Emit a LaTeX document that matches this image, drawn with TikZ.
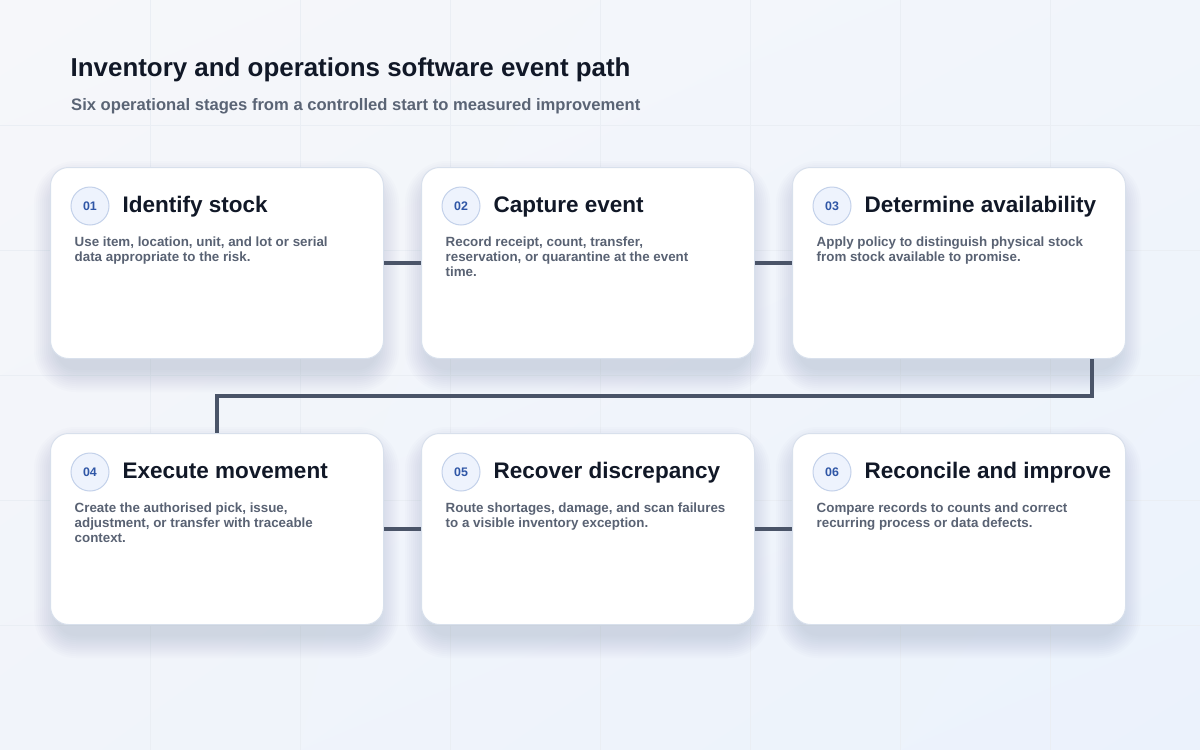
\documentclass[tikz,border=0pt]{standalone}
\usepackage{fontspec}
\setmainfont{Liberation Sans}
\usetikzlibrary{calc,shadings}
\definecolor{bgA}{HTML}{F6F7FA}
\definecolor{bgB}{HTML}{F1F5FB}
\definecolor{bgC}{HTML}{F1F4FA}
\definecolor{bgD}{HTML}{EBF2FC}
\definecolor{gridc}{HTML}{EAEEF4}
\definecolor{titlec}{HTML}{111827}
\definecolor{subc}{HTML}{5A6475}
\definecolor{descc}{HTML}{596273}
\definecolor{cardline}{HTML}{D8E0EC}
\definecolor{shadowc}{HTML}{7F8DAA}
\definecolor{connc}{HTML}{4A5468}
\definecolor{badgefill}{HTML}{EEF3FD}
\definecolor{badgeline}{HTML}{C3D1EA}
\definecolor{badgetext}{HTML}{2F56A6}
\pgfdeclarelayer{shadowlayer}
\pgfsetlayers{shadowlayer,main}
\tikzset{
  card/.style={draw=cardline, line width=1pt, fill=white, rounded corners=18pt,
    minimum width=333pt, minimum height=191pt, inner sep=0pt},
  badge/.style={circle, draw=badgeline, line width=1pt, fill=badgefill,
    minimum size=38pt, inner sep=0pt, text=badgetext,
    font=\fontsize{12.4}{14}\selectfont\bfseries},
  stitle/.style={inner sep=0pt, text=titlec, font=\fontsize{22.5}{26}\selectfont\bfseries},
  sdesc/.style={inner sep=0pt, text=descc, align=left,
    font=\fontsize{13.35}{15}\selectfont\bfseries},
  conn/.style={draw=connc, line width=4pt},
  gridline/.style={draw=gridc, line width=1pt}
}
\newcommand\stagecard[6]{%
  \begin{pgfonlayer}{shadowlayer}
  \foreach \k in {1,...,12}{%
    \pgfmathsetmacro\rr{18+2*\k}%
    \fill[shadowc, opacity=0.022, rounded corners=\rr pt]
      (#2-2*\k+8,#3-2*\k+18) rectangle (#2+333+2*\k-8,#3+191+2*\k+10);
  }
  \end{pgfonlayer}
  \node[card, anchor=north west] (#1) at (#2,#3) {};
  \node[badge] (#1b) at ($(#1.north west)+(40,39)$) {#4};
  \node[stitle, anchor=base west] (#1t) at ($(#1.north west)+(72.5,45.7)$) {#5};
  \node[sdesc, anchor=north west] (#1d) at ($(#1.north west)+(24.5,70)$) {#6};
}
\begin{document}
\begin{tikzpicture}[x=1pt,y=-1pt]
\useasboundingbox (0,0) rectangle (1200,750);
\begin{pgfonlayer}{shadowlayer}
\begin{scope}[y=1pt]
\shade[upper left=bgA, upper right=bgB, lower left=bgC, lower right=bgD] (0,0) rectangle (1200,-750);
\end{scope}
\foreach \gx in {150,300,...,1050} \draw[gridline] (\gx,0) -- (\gx,750);
\foreach \gy in {125,250,...,625} \draw[gridline] (0,\gy) -- (1200,\gy);
\end{pgfonlayer}

\node[inner sep=0pt, anchor=base west, text=titlec, font=\fontsize{25.9}{30}\selectfont\bfseries] (title) at (70.5,76.7) {Inventory and operations software event path};
\node[inner sep=0pt, anchor=base west, text=subc, font=\fontsize{16.6}{19}\selectfont\bfseries] (subtitle) at (71,110) {Six operational stages from a controlled start to measured improvement};

\stagecard{c1}{50}{167}{01}{Identify stock}{Use item, location, unit, and lot or serial\\data appropriate to the risk.}
\stagecard{c2}{421}{167}{02}{Capture event}{Record receipt, count, transfer,\\reservation, or quarantine at the event\\time.}
\stagecard{c3}{792}{167}{03}{Determine availability}{Apply policy to distinguish physical stock\\from stock available to promise.}
\stagecard{c4}{50}{433}{04}{Execute movement}{Create the authorised pick, issue,\\adjustment, or transfer with traceable\\context.}
\stagecard{c5}{421}{433}{05}{Recover discrepancy}{Route shortages, damage, and scan failures\\to a visible inventory exception.}
\stagecard{c6}{792}{433}{06}{Reconcile and improve}{Compare records to counts and correct\\recurring process or data defects.}

\draw[conn] (c1.east) -- (c2.west);
\draw[conn] (c2.east) -- (c3.west);
\coordinate (c3out) at ($(c3.south east)+(-34,0)$);
\coordinate (bend) at ($(c3.south east)+(-34,37)$);
\draw[conn] (c3out) -- (bend) -| (c4.north);
\draw[conn] (c4.east) -- (c5.west);
\draw[conn] (c5.east) -- (c6.west);
\end{tikzpicture}
\end{document}
